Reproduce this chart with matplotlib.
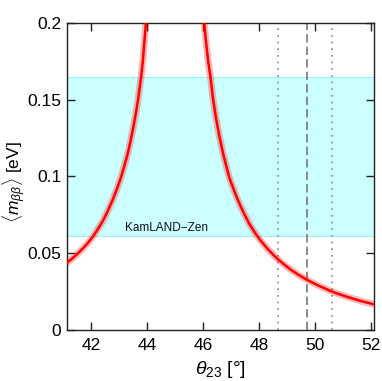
import matplotlib
matplotlib.use("Agg")
import matplotlib.pyplot as plt

plt.rcParams['font.family'] = ['Liberation Sans', 'DejaVu Sans']
plt.rcParams['mathtext.fontset'] = 'custom'
plt.rcParams['mathtext.rm'] = 'Liberation Sans'
plt.rcParams['mathtext.it'] = 'Liberation Sans:italic'
plt.rcParams['mathtext.bf'] = 'Liberation Sans:bold'

# Left branch (theta23 < 45 deg)
theta_left = [41.12, 41.35, 41.59, 41.85, 42.07, 42.25, 42.43, 42.60, 42.78, 42.95,
              43.08, 43.20, 43.32, 43.40, 43.50, 43.60, 43.68, 43.73, 43.79, 43.85,
              43.88, 43.95, 44.00]
m_left = [0.0435, 0.0468, 0.0508, 0.0558, 0.0608, 0.0658, 0.0712, 0.0775, 0.0850, 0.0930,
          0.1000, 0.1075, 0.1155, 0.1220, 0.1310, 0.1410, 0.1500, 0.1570, 0.1650, 0.1750,
          0.1820, 0.1980, 0.2100]

# Right branch (theta23 > 45 deg)
theta_right = [46.00, 46.04, 46.10, 46.18, 46.26, 46.35, 46.45, 46.57, 46.71, 46.85,
               46.93, 47.05, 47.18, 47.32, 47.45, 47.65, 47.86, 48.05, 48.29, 48.50,
               48.67, 48.90, 49.11, 49.40, 49.71, 50.10, 50.58, 50.90, 51.25, 51.60,
               52.10]
m_right = [0.208, 0.200, 0.188, 0.175, 0.165, 0.151, 0.139, 0.127, 0.115, 0.105,
           0.0995, 0.0935, 0.0872, 0.0812, 0.0762, 0.0690, 0.0630, 0.0582, 0.0530, 0.0490,
           0.0460, 0.0425, 0.0395, 0.0359, 0.0326, 0.0290, 0.0251, 0.0230, 0.0209, 0.0190,
           0.0166]

# KamLAND-Zen band
kz_low, kz_high = 0.061, 0.165
kz_label = "KamLAND\u2212Zen"

# Vertical reference lines
theta_best = 49.7
theta_1sigma = [48.67, 50.58]

xlim = (41.14, 52.08)
ylim = (0.0, 0.2)
xticks = [42, 44, 46, 48, 50, 52]
yticks = [0, 0.05, 0.1, 0.15, 0.2]
ytick_labels = ["0", "0.05", "0.1", "0.15", "0.2"]

fig = plt.figure(figsize=(3.82, 3.81), dpi=100)
ax = fig.add_axes([0.175, 0.134, 0.803, 0.806])

ax.axhspan(kz_low, kz_high, facecolor='#ccffff', edgecolor='#99f5f5', lw=0.8, zorder=1)
ax.text(43.22, 0.0625, kz_label, fontsize=8.5, color='#111111', va='bottom', ha='left', zorder=2)

for t in theta_1sigma:
    ax.axvline(t, color='#888888', lw=1.2, ls=(0, (1, 3)), zorder=2)
ax.axvline(theta_best, color='#777777', lw=1.2, ls=(0, (5, 2.5)), zorder=2)

for th, m in [(theta_left, m_left), (theta_right, m_right)]:
    ax.plot(th, m, color='#ff0000', alpha=0.28, lw=5.0, solid_capstyle='butt',
            solid_joinstyle='round', zorder=3)
    ax.plot(th, m, color='#ff0000', lw=1.8, solid_joinstyle='round', zorder=4)

ax.set_xlim(*xlim)
ax.set_ylim(*ylim)
ax.set_xticks(xticks)
ax.set_yticks(yticks)
ax.set_yticklabels(ytick_labels)
ax.tick_params(direction='in', length=6, width=1, labelsize=12.5,
               top=True, right=True, colors='#222222', labelcolor='black')
ax.tick_params(axis='x', pad=6)
ax.tick_params(axis='y', pad=4)
for s in ax.spines.values():
    s.set_linewidth(1.0)
    s.set_color('#222222')

ax.set_xlabel(r"$\theta_{23}$ [°]", fontsize=14, labelpad=4)
ax.set_ylabel(r"$\langle m_{\beta\beta}\rangle$ [eV]", fontsize=12.5)
ax.yaxis.set_label_coords(-0.128, 0.48)

fig.savefig("out.png", dpi=100)
